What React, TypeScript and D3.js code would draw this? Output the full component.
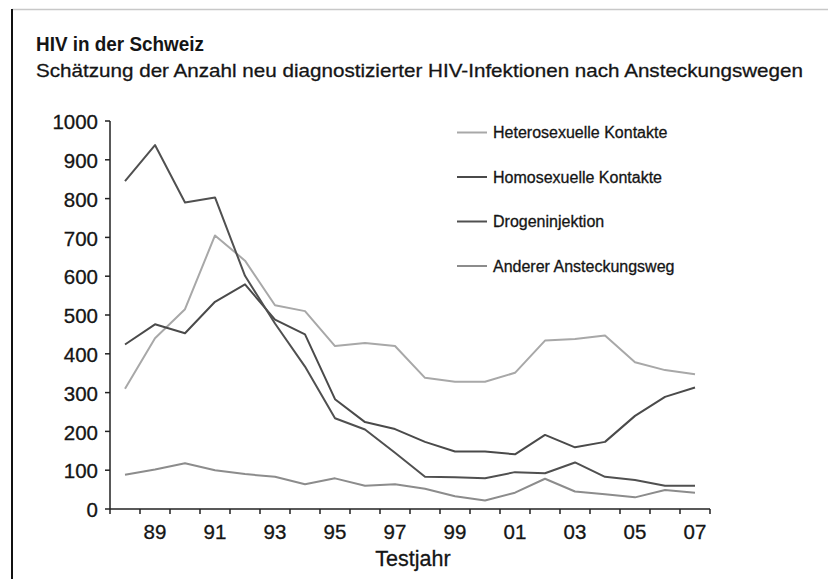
import React from "react";
import * as d3 from "d3";

const years = ["88","89","90","91","92","93","94","95","96","97","98","99","00","01","02","03","04","05","06","07"];
const tickLabelYears = ["89","91","93","95","97","99","01","03","05","07"];
const yTicks = [0,100,200,300,400,500,600,700,800,900,1000];

const hetero = [310,440,515,705,640,525,510,420,428,420,338,328,328,351,434,438,447,378,358,347];
const homo = [424,476,453,534,579,488,450,283,224,206,173,148,148,141,191,159,173,240,289,313];
const drogen = [845,938,790,803,601,478,367,234,205,145,83,82,79,95,92,120,83,75,60,60];
const anderer = [88,102,118,100,90,83,64,79,60,64,52,33,22,42,78,45,38,30,49,42];

const seriesNames = ["Heterosexuelle Kontakte","Homosexuelle Kontakte","Drogeninjektion","Anderer Ansteckungsweg"];
const seriesColors = ["#a8a8a8","#4a4a4a","#505050","#8c8c8c"];

const W = 828, H = 579;
const left = 110, right = 710, top = 121, bottom = 509;
const font = "'Liberation Sans', Arial, Helvetica, sans-serif";
const ink = "#151515";

export default function App() {
  const x = d3.scaleBand<string>().domain(years).range([left, right]).padding(0);
  const y = d3.scaleLinear().domain([0, 1000]).range([bottom, top]);
  const all = [hetero, homo, drogen, anderer];
  const line = d3.line<number>()
    .x((_, i) => (x(years[i]) as number) + x.bandwidth() / 2)
    .y((d) => y(d));
  const boundaries = years.map((yr) => x(yr) as number).concat([right]);
  const textStroke = { stroke: ink, strokeWidth: 0.3 };

  return (
    <svg width={W} height={H} style={{ position: "absolute", left: 0, top: 0, background: "#fff" }} fontFamily={font}>
      <rect x={0} y={0} width={W} height={H} fill="#fff" />
      <line x1={12} x2={W} y1={9.5} y2={9.5} stroke="#c8c8c8" strokeWidth={1.5} />
      <line x1={12} x2={12} y1={9} y2={H} stroke="#111" strokeWidth={2} />
      <text x={36} y={51} fontSize={21} fontWeight="bold" fill={ink} textLength={168} lengthAdjust="spacingAndGlyphs">HIV in der Schweiz</text>
      <text x={36} y={77} fontSize={19} fill={ink} {...textStroke} textLength={767} lengthAdjust="spacingAndGlyphs">Schätzung der Anzahl neu diagnostizierter HIV-Infektionen nach Ansteckungswegen</text>

      {/* y axis */}
      <line x1={left} x2={left} y1={top} y2={bottom} stroke="#222" strokeWidth={1.5} />
      {yTicks.map((t) => (
        <g key={t}>
          <line x1={left - 5} x2={left} y1={y(t)} y2={y(t)} stroke="#222" strokeWidth={1.5} />
          <text x={98} y={y(t)} dy="0.4em" textAnchor="end" fontSize={20.5} fill={ink} {...textStroke}>{t}</text>
        </g>
      ))}

      {/* x axis */}
      <line x1={left} x2={right} y1={bottom} y2={bottom} stroke="#222" strokeWidth={1.5} />
      {boundaries.map((b, i) => (
        <line key={i} x1={b} x2={b} y1={bottom} y2={bottom + 5} stroke="#222" strokeWidth={1.5} />
      ))}
      {tickLabelYears.map((yr) => (
        <text key={yr} x={(x(yr) as number) + x.bandwidth() / 2} y={539} textAnchor="middle" fontSize={20.5} fill={ink} {...textStroke}>{yr}</text>
      ))}
      <text x={(left + right) / 2 + 3} y={566} textAnchor="middle" fontSize={21.5} fill={ink} {...textStroke}>Testjahr</text>

      {/* lines */}
      {all.map((s, i) => (
        <path key={i} d={line(s) || ""} fill="none" stroke={seriesColors[i]} strokeWidth={2} strokeLinejoin="round" />
      ))}

      {/* legend */}
      {seriesNames.map((n, i) => (
        <g key={n} transform={`translate(457, ${132.5 + i * 44.5})`}>
          <line x1={0} x2={30} y1={0} y2={0} stroke={seriesColors[i]} strokeWidth={2} />
          <text x={36} y={0} dy="0.36em" fontSize={16} fill={ink} {...textStroke}>{n}</text>
        </g>
      ))}
    </svg>
  );
}
